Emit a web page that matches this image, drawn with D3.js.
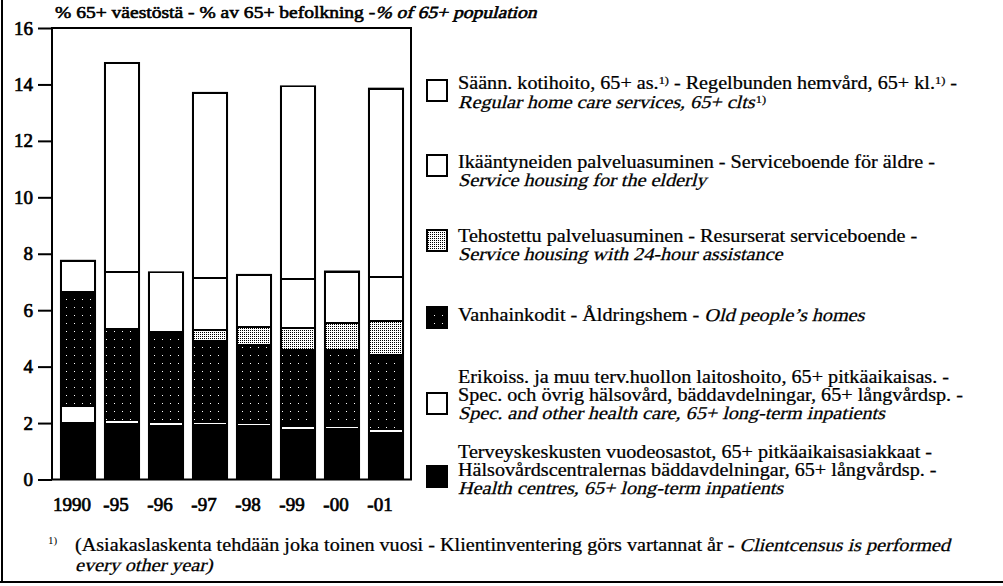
<!DOCTYPE html>
<html>
<head>
<meta charset="utf-8">
<script src="https://cdn.jsdelivr.net/npm/d3@7"></script>
<style>
body { margin: 0; background: #fff; }
svg { font-family: "Liberation Serif", serif; }
svg text { white-space: pre; }
</style>
</head>
<body>
<svg id="chart" width="1003" height="586"></svg>
<script>
// values (% of 65+ population)
var years = ["1990", "-95", "-96", "-97", "-98", "-99", "-00", "-01"]
var health = [2.0, 2.01, 1.93, 1.95, 1.92, 1.80, 1.82, 1.70]
var spec = [0.62, 0.07, 0.08, 0.05, 0.05, 0.07, 0.05, 0.06]
var homes = [4.04, 3.25, 3.20, 2.92, 2.80, 2.72, 2.72, 2.66]
var assisted = [0, 0, 0, 0.38, 0.63, 0.77, 0.97, 1.18]
var service = [1.09, 2.01, 2.13, 1.84, 1.85, 1.74, 1.81, 1.59]
var homecare = [0, 7.42, 0, 6.56, 0, 6.83, 0, 6.66]
var yTicks = [0, 2, 4, 6, 8, 10, 12, 14, 16]

var keys = ["health", "spec", "homes", "assisted", "service", "homecare"]

// legend texts, *italic*, ^superscript^
var legendKeys = ["homecare", "service", "assisted", "homes", "spec", "health"]
var legendText = [
    ["Säänn. kotihoito, 65+ as.^1)^ - Regelbunden hemvård, 65+ kl.^1)^ -", "*Regular home care services, 65+ clts*^1)^"],
    ["Ikääntyneiden palveluasuminen - Serviceboende för äldre -", "*Service housing for the elderly*"],
    ["Tehostettu palveluasuminen - Resurserat serviceboende -", "*Service housing with 24-hour assistance*"],
    ["Vanhainkodit - Åldringshem - *Old people’s homes*"],
    ["Erikoiss. ja muu terv.huollon laitoshoito, 65+ pitkäaikaisas. -", "Spec. och övrig hälsovård, bäddavdelningar, 65+ långvårdsp. -", "*Spec. and other health care, 65+ long-term inpatients*"],
    ["Terveyskeskusten vuodeosastot, 65+ pitkäaikaisasiakkaat -", "Hälsovårdscentralernas bäddavdelningar, 65+ långvårdsp. -", "*Health centres, 65+ long-term inpatients*"]
]
var title = "% 65+ väestöstä - % av 65+ befolkning -*% of 65+ population*"
var footnote = ["(Asiakaslaskenta tehdään joka toinen vuosi - Klientinventering görs vartannat år - *Clientcensus is performed*", "*every other year)*"]

var rows = years.map(function (yr, i) {
    return { year: yr, health: health[i], spec: spec[i], homes: homes[i], assisted: assisted[i], service: service[i], homecare: homecare[i] }
})
var stacked = d3.stack().keys(keys)(rows)

var svg = d3.select("#chart")

// fills: scanned black & white look
var defs = svg.append("defs")
var pH = defs.append("pattern").attr("id", "homes").attr("width", 8).attr("height", 8)
    .attr("patternUnits", "userSpaceOnUse")
pH.append("rect").attr("width", 8).attr("height", 8).attr("fill", "#000")
pH.append("rect").attr("x", 2).attr("y", 3).attr("width", 1).attr("height", 1).attr("fill", "#fff")
var pA = defs.append("pattern").attr("id", "assisted").attr("width", 2).attr("height", 2)
    .attr("patternUnits", "userSpaceOnUse")
pA.append("rect").attr("width", 2).attr("height", 2).attr("fill", "#fff")
pA.append("rect").attr("width", 1).attr("height", 1).attr("fill", "#000")

var fills = { health: "#000", spec: "#fff", homes: "url(#homes)", assisted: "url(#assisted)", service: "#fff", homecare: "#fff" }

var x = d3.scaleBand().domain(years).range([56, 408]).paddingInner(0.18).paddingOuter(0.09)
var y = d3.scaleLinear().domain([0, 16]).range([479.5, 28])

// only the regular serif face is around: italic is a skew, bold a thin stroke,
// and the scan is a bit wider than tall so lines get a small x stretch
function richLine(parent, str, px, py, size, sx, weight) {
    var g = parent.append("g")
        .attr("transform", "translate(" + px + "," + py + ") scale(" + sx + ",1)")
    var parts = str.split(/(\*[^*]+\*|\^[^^]+\^)/).filter(function (p) { return p.length })
    var cursor = 0
    parts.forEach(function (p) {
        var kind = p[0] == "*" ? "i" : (p[0] == "^" ? "sup" : "")
        var t = g.append("text")
            .attr("font-size", kind == "sup" ? 11 : size)
            .text(kind ? p.slice(1, -1) : p)
        if (weight) t.attr("stroke", "#000").attr("stroke-width", weight)
        if (kind == "i") t.attr("transform", "translate(" + cursor + ",0) skewX(-13)")
        else t.attr("x", cursor).attr("y", kind == "sup" ? -5 : 0)
        cursor += t.node().getComputedTextLength() + (kind == "i" ? 1 : 0)
    })
    return g
}

// page border (left + bottom)
svg.append("line").attr("x1", 2).attr("x2", 2).attr("y1", 0).attr("y2", 582)
    .attr("stroke", "#000").attr("stroke-width", 2)
svg.append("line").attr("x1", 0).attr("x2", 1003).attr("y1", 582).attr("y2", 582)
    .attr("stroke", "#000").attr("stroke-width", 2)

// plot frame
svg.append("rect")
    .attr("x", 52).attr("y", y(16))
    .attr("width", 359).attr("height", y(0) - y(16))
    .attr("fill", "none").attr("stroke", "#000").attr("stroke-width", 2)

// y axis
var yAxis = svg.append("g")
    .attr("transform", "translate(52,0)")
    .call(d3.axisLeft(y).tickValues(yTicks).tickSize(14).tickPadding(5))
yAxis.select(".domain").remove()
yAxis.selectAll("line").attr("stroke-width", 2)
yAxis.selectAll("text").attr("font-family", "Liberation Serif").attr("font-size", 19)
    .attr("fill", "#000").attr("stroke", "#000").attr("stroke-width", 0.7)

// x axis labels
var xAxis = svg.append("g")
    .attr("transform", "translate(0," + y(0) + ")")
    .call(d3.axisBottom(x).tickSize(0).tickPadding(18))
xAxis.select(".domain").remove()
xAxis.selectAll("text").attr("font-family", "Liberation Serif").attr("font-size", 19)
    .attr("fill", "#000").attr("stroke", "#000").attr("stroke-width", 0.7).attr("dx", -6)

// bar outline (black under the segments)
svg.selectAll("rect.bar")
    .data(rows)
    .enter().append("rect")
    .attr("class", "bar")
    .attr("x", function (d) { return x(d.year) })
    .attr("y", function (d) { return y(d3.sum(keys, function (k) { return d[k] })) - 1 })
    .attr("width", x.bandwidth())
    .attr("height", function (d) { return y(0) - y(d3.sum(keys, function (k) { return d[k] })) + 1 })
    .attr("fill", "#000")

// stacked segments
svg.selectAll("g.layer")
    .data(stacked)
    .enter().append("g")
    .attr("class", "layer")
    .attr("fill", function (s) { return fills[s.key] })
    .selectAll("rect")
    .data(function (s) { return s.filter(function (d) { return d[1] - d[0] > 0 }) })
    .enter().append("rect")
    .attr("shape-rendering", "crispEdges")
    .attr("x", function (d) { return x(d.data.year) + 2 })
    .attr("width", x.bandwidth() - 4)
    .attr("y", function (d) {
        var h = y(d[0]) - y(d[1])
        return y(d[1]) + (h > 6 ? 1 : 0)
    })
    .attr("height", function (d) {
        var h = y(d[0]) - y(d[1])
        return h > 6 ? h - 2 : h
    })

// title
richLine(svg, title, 55, 18, 17, 1.15, 0.6)

// legend
var swatchY = [80, 155, 230, 307, 393, 466]
var lineY = [[89, 108], [168, 186], [242, 260], [321], [383, 401, 419], [458, 476, 494]]

var legend = svg.append("g")
legendKeys.forEach(function (k, i) {
    legend.append("rect")
        .attr("x", 427).attr("y", swatchY[i])
        .attr("width", 20).attr("height", 21)
        .attr("fill", fills[k]).attr("stroke", "#000").attr("stroke-width", 2)
    legendText[i].forEach(function (line, j) {
        richLine(legend, line, 458, lineY[i][j], 18, 1.12, 0.25)
    })
})

// footnote
svg.append("text").attr("x", 48).attr("y", 544).attr("font-size", 11).text("1)")
footnote.forEach(function (line, j) {
    richLine(svg, line, 75, 551 + j * 20, 18, 1.12, 0.25)
})
</script>
</body>
</html>
